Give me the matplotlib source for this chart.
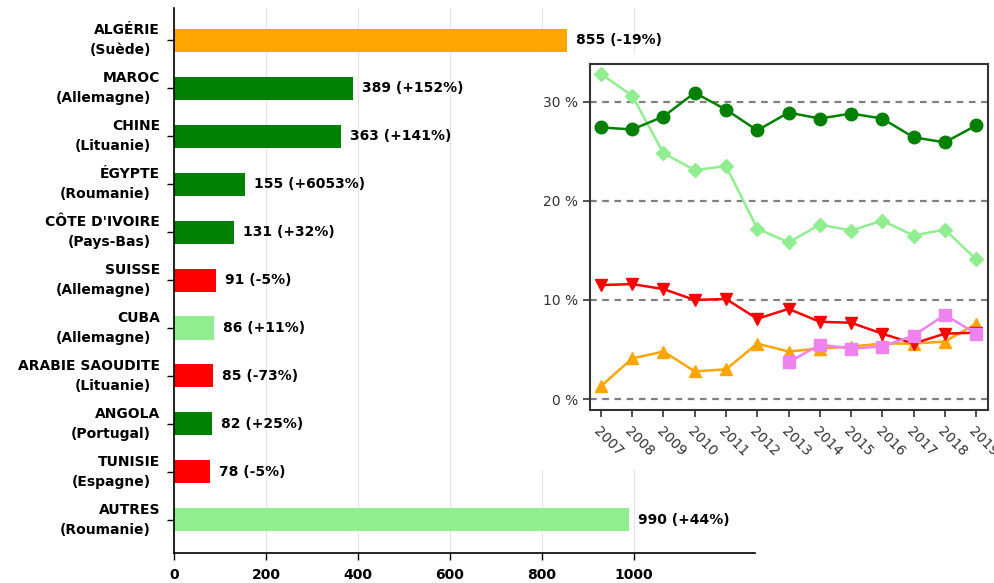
import matplotlib
matplotlib.use("Agg")
from matplotlib import pyplot as plt
import numpy as np

# bar chart data
pays = ["ALGÉRIE", "MAROC", "CHINE", "ÉGYPTE", "CÔTE D'IVOIRE", "SUISSE",
        "CUBA", "ARABIE SAOUDITE", "ANGOLA", "TUNISIE", "AUTRES"]
partenaires = ["Suède", "Allemagne", "Lituanie", "Roumanie", "Pays-Bas", "Allemagne",
               "Allemagne", "Lituanie", "Portugal", "Espagne", "Roumanie"]
valeurs = [855, 389, 363, 155, 131, 91, 86, 85, 82, 78, 990]
evolutions = ["-19%", "+152%", "+141%", "+6053%", "+32%", "-5%",
              "+11%", "-73%", "+25%", "-5%", "+44%"]
couleurs = ["orange", "green", "green", "green", "green", "red",
            "lightgreen", "red", "green", "red", "lightgreen"]
x_ticks = [0, 200, 400, 600, 800, 1000]

# inset line data (shares, %)
annees = list(range(2007, 2020))
vert_fonce = [27.4, 27.2, 28.5, 30.9, 29.2, 27.1, 28.9, 28.3, 28.8, 28.3, 26.4, 25.9, 27.6]
vert_clair = [32.8, 30.6, 24.8, 23.1, 23.5, 17.2, 15.8, 17.6, 17.0, 18.0, 16.5, 17.1, 14.1]
rouge = [11.5, 11.6, 11.1, 10.0, 10.1, 8.1, 9.1, 7.8, 7.7, 6.6, 5.6, 6.6, 6.7]
orange = [1.3, 4.1, 4.8, 2.8, 3.0, 5.6, 4.8, 5.1, 5.3, 5.6, 5.6, 5.8, 7.6]
annees_violet = list(range(2013, 2020))
violet = [3.7, 5.5, 5.1, 5.3, 6.4, 8.5, 6.6]
y_ticks_inset = [0, 10, 20, 30]

fig = plt.figure(figsize=(9.95, 5.83), dpi=100)
W, H = 995, 583

def px_axes(l, t, r, b):
    return [l / W, 1 - b / H, (r - l) / W, (b - t) / H]

# main bar chart
ax = fig.add_axes(px_axes(174, 8, 755, 553))
pos = np.arange(len(pays))
ax.barh(pos, valeurs, height=0.48, color=couleurs, zorder=2)
ax.set_ylim(len(pays) - 1 + 0.69, -0.67)
ax.set_xlim(0, 1263)
ax.set_xticks(x_ticks)
ax.set_xticklabels([str(t) for t in x_ticks], fontsize=10, fontweight="bold")
ax.set_yticks(pos)
ax.set_yticklabels([])
ax.tick_params(axis="y", length=5, width=1)
ax.tick_params(axis="x", length=5, width=1, pad=6)
ax.grid(axis="x", color="#e6e6e6", lw=1, zorder=0)
for s in ["top", "right"]:
    ax.spines[s].set_visible(False)
for s in ["left", "bottom"]:
    ax.spines[s].set_linewidth(1.2)

for i in range(len(pays)):
    ax.annotate(pays[i], xy=(0, i), xycoords=("axes fraction", "data"),
                xytext=(-10, 7.2), textcoords="offset points",
                ha="right", va="center", fontsize=10, fontweight="bold")
    ax.annotate("(" + partenaires[i] + ")", xy=(0, i), xycoords=("axes fraction", "data"),
                xytext=(-16.5, -7.2), textcoords="offset points",
                ha="right", va="center", fontsize=10, fontweight="bold")
    ax.annotate(f"{valeurs[i]} ({evolutions[i]})", xy=(valeurs[i], i),
                xytext=(6.5, 0), textcoords="offset points",
                ha="left", va="center", fontsize=10, fontweight="bold")

# white backdrop for the inset
bg = fig.add_axes(px_axes(525, 53, 995, 470))
bg.set_xticks([])
bg.set_yticks([])
for s in bg.spines.values():
    s.set_visible(False)

# inset line chart
ax2 = fig.add_axes(px_axes(590, 64, 988, 410))
ax2.plot(annees, vert_fonce, "-o", color="green", lw=1.8, ms=9, zorder=5)
ax2.plot(annees, vert_clair, "-D", color="lightgreen", lw=1.8, ms=7.5, zorder=4)
ax2.plot(annees, rouge, "-v", color="red", lw=1.8, ms=9, zorder=4)
ax2.plot(annees, orange, "-^", color="orange", lw=1.8, ms=9, zorder=3)
ax2.plot(annees_violet, violet, "-s", color="violet", lw=1.8, ms=8.5, zorder=4)
ax2.set_xlim(2006.65, 2019.38)
ax2.set_ylim(-1.1, 33.8)
ax2.set_yticks(y_ticks_inset)
ax2.set_yticklabels([f"{t} %" for t in y_ticks_inset], fontsize=10, color="#333333")
ax2.set_xticks(annees)
ax2.set_xticklabels([str(a) for a in annees], fontsize=10, color="#333333",
                    rotation=-45, ha="left", va="top", rotation_mode="anchor")
ax2.tick_params(axis="both", length=5, width=1.2, color="#333333")
ax2.tick_params(axis="x", pad=5)
for y in y_ticks_inset:
    ax2.axhline(y, color="#808080", lw=1.6, ls=(0, (3, 2.5)), zorder=1)
for s in ax2.spines.values():
    s.set_linewidth(1.5)
    s.set_color("#333333")

fig.savefig("out.png", dpi=100)
